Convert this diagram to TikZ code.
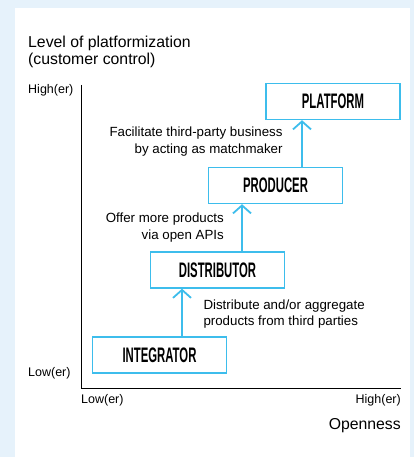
\documentclass[tikz,border=0pt]{standalone}
\usepackage{fontspec}
\setmainfont{Liberation Sans}
\newfontfamily\stagefont[FakeStretch=0.54]{Liberation Sans}
\usepackage{tikz}
\usetikzlibrary{arrows.meta,positioning}
\usepackage{xcolor}
\definecolor{panelbg}{HTML}{E6F2FB}
\definecolor{stageblue}{HTML}{3DBDEC}

\begin{document}
\begin{tikzpicture}[x=1pt, y=1pt]

  % Define styles for stages and arrows
  \tikzstyle{stage} = [rectangle, draw=stageblue, line width=1.4pt, fill=white, text centered, minimum height=36pt, minimum width=134pt, font=\stagefont\bfseries\fontsize{21}{21}\selectfont]
  \tikzstyle{flow} = [draw=stageblue, line width=1.8pt, -{Straight Barb[length=8pt,width=18pt,line width=1.8pt]}]
  \tikzstyle{note} = [font=\fontsize{13.3}{16.5}\selectfont, inner sep=0pt]
  \tikzstyle{tick} = [font=\fontsize{12.5}{14}\selectfont, inner sep=0pt]

  % Background panel
  \fill[panelbg] (0,0) rectangle (414,457);
  \fill[white] (15,0) rectangle (410,449);
  \useasboundingbox (0,0) rectangle (414,457);

  % Axes
  \coordinate (origin) at (81,69);
  \coordinate (ytop) at (81,372);
  \coordinate (xend) at (401,69);
  \draw[line width=0.8pt] (ytop) -- (origin) -- (xend);

  % Axis labels (base = last line)
  \node[anchor=base west, font=\fontsize{15.8}{17}\selectfont, align=left, inner sep=0pt] (ylabel) at (28,392) {Level of platformization\\(customer control)};
  \node[tick, anchor=base west] (yhigh) at (28,363.7) {High(er)};
  \node[tick, anchor=base west] (ylow) at (28,80) {Low(er)};
  \node[tick, anchor=base west] (xlow) at (81,53) {Low(er)};
  \node[tick, anchor=base east] (xhigh) at (401,53) {High(er)};
  \node[anchor=base east, font=\fontsize{15.8}{17}\selectfont, inner sep=0pt] (xlabel) at (401,27) {Openness};

  % Stages
  \node[stage] (integrator) at (159.5,102) {INTEGRATOR};
  \node[stage] (distributor) at (217.5,187) {DISTRIBUTOR};
  \node[stage] (producer) at (275.5,271.5) {PRODUCER};
  \node[stage] (platform) at (333,355.5) {PLATFORM};

  % Steps
  \draw[flow] ([xshift=22.5pt]integrator.north) -- ([xshift=22.5pt]integrator.north |- distributor.south);
  \draw[flow] ([xshift=24.5pt]distributor.north) -- ([xshift=24.5pt]distributor.north |- producer.south);
  \draw[flow] ([xshift=26.5pt]producer.north) -- ([xshift=26.5pt]producer.north |- platform.south);

  % Step notes
  \node[note, align=left, anchor=base west] (aggregate) at (203.3,131.3) {Distribute and/or aggregate\\products from third parties};
  \node[note, align=right, anchor=base east] (apis) at (224,217.7) {Offer more products\\via open APIs};
  \node[note, align=right, anchor=base east] (matchmaker) at (282.7,303.7) {Facilitate third-party business\\by acting as matchmaker};

\end{tikzpicture}
\end{document}
